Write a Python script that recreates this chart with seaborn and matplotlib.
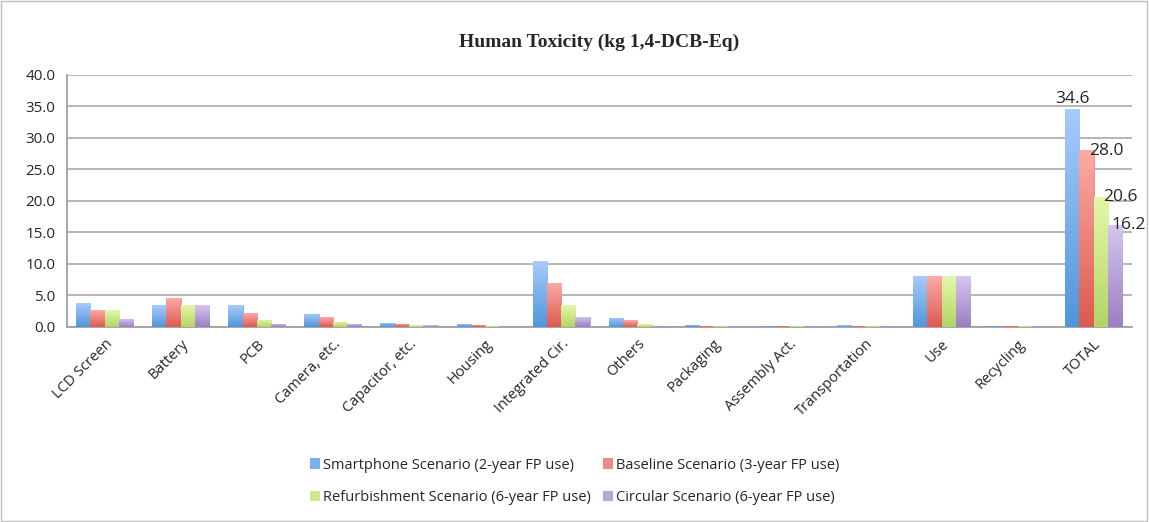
import matplotlib
matplotlib.use("Agg")
import matplotlib.pyplot as plt
import seaborn as sns
import pandas as pd
import numpy as np
from matplotlib.patches import Rectangle
from matplotlib.ticker import FixedLocator
from matplotlib.colors import LinearSegmentedColormap

categories = ["LCD Screen", "Battery", "PCB", "Camera, etc.", "Capacitor, etc.", "Housing",
              "Integrated Cir.", "Others", "Packaging", "Assembly Act.", "Transportation",
              "Use", "Recycling", "TOTAL"]
series = ["Smartphone Scenario (2-year FP use)", "Baseline Scenario (3-year FP use)",
          "Refurbishment Scenario (6-year FP use)", "Circular Scenario (6-year FP use)"]
smartphone = [3.8, 3.4, 3.4, 2.1, 0.65, 0.5, 10.4, 1.45, 0.35, 0.2, 0.25, 8.0, 0.2, 34.6]
baseline = [2.6, 4.5, 2.2, 1.5, 0.5, 0.35, 6.9, 1.0, 0.2, 0.2, 0.2, 8.0, 0.2, 28.0]
refurbishment = [2.6, 3.4, 1.15, 0.8, 0.25, 0.2, 3.4, 0.45, 0.2, 0.2, 0.2, 8.0, 0.2, 20.6]
circular = [1.3, 3.4, 0.5, 0.5, 0.25, 0.2, 1.6, 0.2, 0.2, 0.2, 0.2, 8.0, 0.2, 16.2]
colors = ["#7db0ec", "#ee8a84", "#cde88e", "#b8a3da"]
grad_bottom = ["#5096db", "#dd5a4f", "#b3d565", "#9a7fc2"]
grad_top = ["#a8cbfb", "#fbaaa6", "#e3f8a8", "#d6c6f0"]

rows = []
for s, vals in zip(series, [smartphone, baseline, refurbishment, circular]):
    for c, v in zip(categories, vals):
        rows.append({"cat": c, "series": s, "value": v})
df = pd.DataFrame(rows)

sns.set_style("white")
plt.rcParams["font.family"] = ["Open Sans", "DejaVu Sans"]

fig = plt.figure(figsize=(11.49, 5.22), dpi=100)
ax = fig.add_axes([0.058, 0.374, 0.927, 0.483])
sns.barplot(data=df, x="cat", y="value", hue="series", palette=colors,
            width=0.75, saturation=1, ax=ax, legend=True,
            edgecolor="none", linewidth=0)

# vertical gradient fill for each bar (per-bar, light top / dark bottom)
grad = np.linspace(0, 1, 64).reshape(-1, 1)
for cont, cb, ct in zip(ax.containers, grad_bottom, grad_top):
    cmap = LinearSegmentedColormap.from_list("g", [cb, ct])
    for p in cont.patches:
        p.set_edgecolor(p.get_facecolor())
        p.set_linewidth(0.6)
        p.set_zorder(3)
        x0, y0 = p.get_x(), p.get_y()
        w, h = p.get_width(), p.get_height()
        im = ax.imshow(grad, extent=[x0, x0 + w, y0, y0 + h], origin="lower",
                       cmap=cmap, aspect="auto", zorder=3.1,
                       interpolation="bilinear")
        im.set_clip_path(p)

ax.set_ylim(0, 40)
ax.set_xlim(-0.5, len(categories) - 0.5)
ax.set_yticks([0, 5, 10, 15, 20, 25, 30, 35, 40])
ax.set_yticklabels([f"{v:.1f}" for v in range(0, 45, 5)], fontsize=11)
ax.grid(axis="y", color="#b0b0b0", linewidth=1.3)
ax.set_axisbelow(True)
for sp in ["top", "right"]:
    ax.spines[sp].set_visible(False)
ax.spines["left"].set_color("#a0a0a0")
ax.spines["bottom"].set_color("#a0a0a0")
ax.spines["left"].set_linewidth(1.3)
ax.spines["bottom"].set_linewidth(1.3)
ax.tick_params(axis="y", length=5, color="#a0a0a0", width=1.3, pad=3)
ax.set_xticks(range(len(categories)))
ax.set_xticklabels(categories, rotation=45, ha="right", rotation_mode="anchor", fontsize=10.5)
ax.tick_params(axis="x", length=0, pad=7)
ax.xaxis.set_minor_locator(FixedLocator([i - 0.5 for i in range(len(categories) + 1)]))
ax.tick_params(axis="x", which="minor", length=5, color="#a0a0a0", width=1.3)
ax.set_xlabel("")
ax.set_ylabel("")

# labels on TOTAL bars
offsets = [(0, 1), (14, -6), (14, -6), (10, -6)]
for cont, off in zip(ax.containers, offsets):
    labels = ["" for _ in categories]
    labels[-1] = f"{cont.datavalues[-1]:.1f}"
    anns = ax.bar_label(cont, labels=labels, padding=1, fontsize=12.5)
    for a in anns:
        a.xyann = off
        a.set_zorder(10)

ax.set_title("Human Toxicity (kg 1,4-DCB-Eq)", fontsize=14, fontweight="bold",
             family=["Liberation Serif", "DejaVu Serif"], pad=20)

handles, labs = ax.get_legend_handles_labels()
ax.get_legend().remove()
order = [0, 2, 1, 3]
fig.legend([handles[i] for i in order], [labs[i] for i in order], loc="center",
           bbox_to_anchor=(0.5, 0.078), ncol=2, frameon=False, fontsize=10.5,
           handlelength=0.7, handleheight=0.7, handletextpad=0.2, columnspacing=0.8,
           labelspacing=1.2)

fig.patches.append(Rectangle((0.001, 0.002), 0.997, 0.996, transform=fig.transFigure,
                             fill=False, edgecolor="#c0c0c0", linewidth=1))
fig.savefig("out.png", dpi=100)
